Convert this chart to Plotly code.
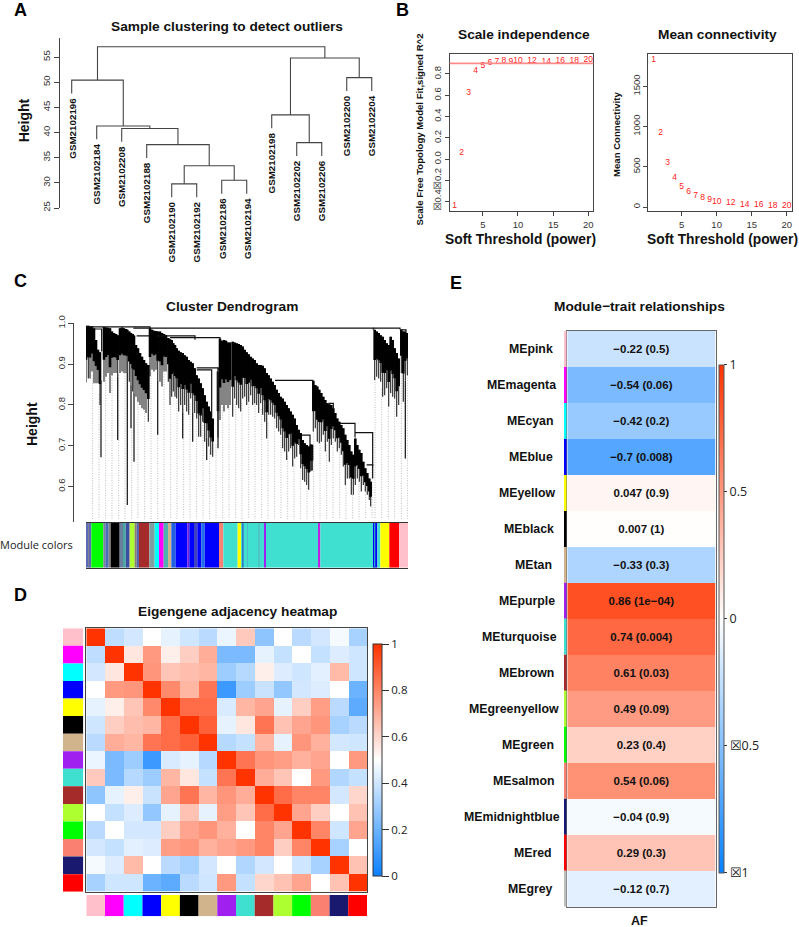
import numpy as np
import plotly.graph_objects as go

W, H = 799, 927

# A - amostras
sample_names = ["GSM2102196", "GSM2102184", "GSM2102208", "GSM2102188", "GSM2102190", "GSM2102192", "GSM2102186",
                "GSM2102194", "GSM2102198", "GSM2102202", "GSM2102206", "GSM2102200", "GSM2102204"]
# negativo = folha, positivo = no anterior (como hclust)
merge_left = [-5, -7, 1, -4, -3, -2, -1, -10, -9, -12, 9, 7]
merge_right = [-6, -8, 2, 3, 4, 5, 6, -11, 8, -13, 10, 11]
merge_height = [29.8, 30.5, 33.4, 37.6, 40.8, 41.3, 50.4, 38.0, 43.5, 50.9, 54.8, 57.05]
leaf_hang = 2.65

# B - soft threshold
powers = [1, 2, 3, 4, 5, 6, 7, 8, 9, 10, 12, 14, 16, 18, 20]
scale_fit = [-0.44, 0.063, 0.62, 0.827, 0.877, 0.905, 0.918, 0.92, 0.915, 0.92, 0.925, 0.918, 0.92, 0.92, 0.93]
mean_conn = [1823, 920, 551, 360, 253, 186, 141, 108, 87, 70, 46, 33, 25, 17, 12]

# C - dendrograma (posicao na arvore, topo e base dos ramos)
tree_x = [0, 7, 12, 18, 24, 30, 36, 42, 54, 60, 66, 72, 78, 84, 90, 95, 102, 108, 114, 120, 124, 130, 135, 140, 144,
          150, 156, 162, 168, 174, 180, 187, 192, 198, 204, 210, 215, 222, 228, 234, 240, 247, 252, 257, 262, 267,
          272, 278, 284, 290, 296, 302, 308, 314, 320, 326, 332, 338, 344, 350, 356, 362, 368, 374, 380, 396, 402,
          408, 414, 420, 426, 432, 440, 446, 452, 458, 464, 470, 476, 482, 488, 494, 500, 506, 512, 518, 524, 530,
          536, 542, 548, 554, 560, 566, 572, 578, 584, 590, 596, 602, 608, 614, 620, 626, 632, 638, 644, 650, 656,
          662, 668, 674, 678, 682, 688, 694, 700, 706, 712, 718, 724, 730, 736, 742, 748, 754, 760, 766, 772, 778,
          784, 790, 796, 802, 808, 814, 820, 826, 832, 838, 844, 850, 854, 866, 872, 878, 884, 890, 896, 902, 908,
          914, 920, 926, 932, 938, 946, 952, 958, 964]
tree_top = [.994, .994, .993, .992, .988, .959, .935, .929, .991, .990, .989, .988, .980, .976, .974, .971, .988, .990,
            .988, .986, .984, .980, .976, .974, .970, .947, .939, .927, .918, .910, .902, .898, .988, .984, .982, .981,
            .980, .980, .976, .974, .971, .964, .961, .959, .951, .947, .939, .933, .929, .927, .922, .918, .910, .906,
            .902, .890, .873, .865, .853, .841, .824, .808, .796, .784, .767, .882, .962, .957, .959, .957, .953, .953,
            .955, .953, .951, .949, .947, .943, .935, .929, .924, .918, .914, .910, .902, .898, .898, .896, .890, .878,
            .873, .865, .857, .849, .837, .829, .820, .816, .808, .800, .792, .784, .776, .767, .751, .739, .731, .714,
            .706, .702, .698, .702, .702, .859, .849, .845, .837, .829, .820, .812, .804, .802, .800, .792, .780, .767,
            .759, .751, .743, .727, .714, .702, .686, .678, .718, .702, .690, .682, .661, .645, .633, .620, .612, .984,
            .980, .976, .971, .967, .959, .951, .947, .967, .959, .939, .927, .914, .984, .980, .980, .976]
tree_bottom = [.855, .865, .865, .882, .853, .853, .853, .800, .857, .869, .878, .829, .873, .878, .878, .870, .878, .882,
               .878, .878, .878, .857, .850, .833, .830, .820, .808, .800, .792, .788, .780, .759, .870, .886, .882, .886,
               .860, .857, .845, .882, .882, .857, .800, .820, .833, .820, .816, .784, .800, .780, .800, .784, .776, .816,
               .780, .780, .767, .722, .722, .759, .710, .720, .698, .678, .673, .720, .763, .800, .784, .800, .792, .800,
               .771, .816, .800, .792, .784, .816, .820, .800, .808, .824, .800, .804, .800, .780, .804, .776, .759, .718,
               .776, .776, .771, .767, .743, .735, .727, .694, .686, .665, .686, .694, .649, .669, .673, .702, .645, .616,
               .612, .604, .592, .637, .639, .735, .743, .710, .706, .710, .727, .686, .710, .661, .702, .718, .710, .686,
               .694, .678, .649, .604, .620, .620, .580, .580, .604, .620, .612, .588, .604, .588, .580, .567, .551, .861,
               .869, .865, .857, .820, .824, .841, .796, .829, .820, .816, .771, .800, .878, .808, .860, .873]
spike_x = [45, 95, 124, 135, 144, 215, 290, 320, 362, 396, 958]
spike_top = [.860, .870, .878, .850, .830, .860, .780, .780, .720, .890, .860]
spike_bottom = [.672, .714, .555, .743, .661, .727, .718, .710, .665, .694, .669]
bracket_x0 = [25, 0, 152, 142, 862, 942, 252, 212, 332, 332, 567, 762, 807, 647, 672, 842, 727]
bracket_x1 = [47, 192, 192, 862, 942, 960, 402, 327, 397, 377, 680, 807, 860, 672, 678, 860, 742]
bracket_h = [.986, .991, .969, .988, .988, .984, .965, .969, .891, .886, .860, .755, .732, .726, .702, .653, .804]
bracket_drop = [.931, .988, .969, .984, .985, .980, .958, .960, .885, .770, .855, .720, .620, .700, .640, .650, .790]
guide_x = [20, 39, 59, 78, 98, 117, 137, 156, 176, 195, 215, 234, 254, 273, 293, 312, 332, 351, 371, 390, 410, 429,
           449, 468, 488, 507, 527, 546, 566, 585, 605, 624, 644, 663, 683, 702, 722, 741, 761, 780, 800, 819, 839,
           858, 867, 887, 907, 926, 946, 965]

module_colors = ["#5D6BB5", "#808090", "#5D6BB5", "#00FF00", "#7A7F9A", "#4B6CB7", "#808080", "#000000", "#6A7FA0",
                 "#48A8A0", "#3A4FA0", "#A0A0A0", "#ADFF2F", "#8A7A70", "#5566AA", "#A52A2A", "#80A0A0", "#00FFFF",
                 "#FF00FF", "#50B0B0", "#D2B48C", "#2060E0", "#0000FF", "#7020E0", "#0000FF", "#4040C0", "#0000FF",
                 "#1E70E8", "#0000FF", "#FA8072", "#40E0D0", "#FFFF00", "#40E0D0", "#3377CC", "#40E0D0", "#50B8C8",
                 "#40E0D0", "#50C0C8", "#40E0D0", "#A020F0", "#40E0D0", "#C020E0", "#40E0D0", "#0000FF", "#30A0C0",
                 "#0000FF", "#40E0D0", "#FFFF00", "#FF0000", "#FFC0CB"]
module_widths = [8, 3, 5, 36, 6, 10, 6, 27, 10, 8, 10, 3, 14, 6, 7, 31, 16, 13, 14, 13, 10, 13, 35, 6, 14, 10, 12, 10,
                 43, 13, 43, 12, 3, 3, 10, 3, 32, 3, 14, 5, 156, 7, 159, 4, 2, 6, 9, 27, 29, 27]

# D - adjacencia
eigen_colors = ["#FFC0CB", "#FF00FF", "#00FFFF", "#0000FF", "#FFFF00", "#000000", "#D2B48C", "#A020F0", "#40E0D0",
                "#A52A2A", "#ADFF2F", "#00FF00", "#FA8072", "#191970", "#FF0000"]
adjacency = [
    [1.00, .37, .41, .50, .45, .40, .36, .46, .63, .27, .50, .36, .41, .48, .32],
    [.37, 1.00, .56, .75, .54, .62, .70, .23, .23, .45, .38, .50, .38, .43, .40],
    [.41, .56, 1.00, .76, .64, .66, .68, .30, .35, .54, .43, .40, .44, .67, .40],
    [.50, .75, .76, 1.00, .79, .68, .84, .10, .30, .39, .28, .41, .43, .50, .20],
    [.45, .54, .64, .79, 1.00, .86, .86, .42, .68, .72, .45, .62, .74, .36, .17],
    [.40, .62, .66, .68, .86, 1.00, .89, .45, .56, .84, .65, .72, .76, .32, .36],
    [.36, .70, .68, .84, .86, .89, 1.00, .35, .38, .68, .45, .76, .69, .41, .40],
    [.46, .23, .30, .10, .42, .45, .35, 1.00, .84, .76, .74, .69, .72, .50, .75],
    [.63, .23, .35, .30, .68, .56, .38, .84, 1.00, .70, .64, .50, .75, .34, .38],
    [.27, .45, .54, .39, .72, .84, .68, .76, .70, 1.00, .86, .80, .80, .41, .60],
    [.50, .38, .43, .28, .45, .65, .45, .74, .64, .86, 1.00, .72, .62, .50, .65],
    [.36, .50, .41, .41, .62, .72, .76, .69, .50, .80, .72, 1.00, .80, .40, .72],
    [.41, .38, .44, .43, .74, .76, .69, .72, .75, .80, .62, .80, 1.00, .32, .50],
    [.48, .43, .67, .50, .36, .32, .41, .50, .34, .41, .50, .40, .32, 1.00, .65],
    [.32, .40, .40, .20, .17, .36, .40, .75, .38, .60, .65, .72, .50, .65, 1.00],
]

# E - modulos x AF
me_names = ["MEpink", "MEmagenta", "MEcyan", "MEblue", "MEyellow", "MEblack", "MEtan", "MEpurple", "MEturquoise",
            "MEbrown", "MEgreenyellow", "MEgreen", "MEsalmon", "MEmidnightblue", "MEred", "MEgrey"]
me_colors = eigen_colors[:12] + ["#FA8072", "#191970", "#FF0000", "#BEBEBE"]
me_corr = [-0.22, -0.54, -0.42, -0.7, 0.047, 0.007, -0.33, 0.86, 0.74, 0.61, 0.49, 0.23, 0.54, -0.04, 0.29, -0.12]
me_text = ["−0.22 (0.5)", "−0.54 (0.06)", "−0.42 (0.2)", "−0.7 (0.008)", "0.047 (0.9)", "0.007 (1)", "−0.33 (0.3)",
           "0.86 (1e−04)", "0.74 (0.004)", "0.61 (0.03)", "0.49 (0.09)", "0.23 (0.4)", "0.54 (0.06)", "−0.04 (0.9)",
           "0.29 (0.3)", "−0.12 (0.7)"]
me_label_right = [555, 558, 555, 555, 557, 556, 554, 557, 559, 556, 561, 556, 557, 562, 554, 555]

AXIS = "#444444"
SANS = "Liberation Sans"
BWR = [[0, "#0A80FF"], [0.5, "#FFFFFF"], [1, "#FF3300"]]

fig = go.Figure()


def xdom(a, b):
    return [a / W, b / W]


def ydom(top, bottom):
    return [1 - bottom / H, 1 - top / H]


def label(x, y, text, size=13.7, bold=True, angle=0, color="#111111", family=SANS, anchor="center"):
    fig.add_annotation(xref="paper", yref="paper", x=x / W, y=1 - y / H, text=f"<b>{text}</b>" if bold else text,
                       showarrow=False, textangle=angle, xanchor=anchor, yanchor="middle",
                       font=dict(size=size, color=color, family=family))


def segments(xs0, ys0, xs1, ys1):
    xs, ys = [], []
    for a, b, c, d in zip(xs0, ys0, xs1, ys1):
        xs += [a, c, None]
        ys += [b, d, None]
    return xs, ys


hidden = dict(visible=False, fixedrange=True)
tick_font = dict(size=9.5, color="#333333", family=SANS)

# ---- A
n_leaf = len(sample_names)
node_x, node_h = {}, {}
dx, dy = [], []
for i, (a, b, h) in enumerate(zip(merge_left, merge_right, merge_height), start=1):
    pts = []
    for k in (a, b):
        if k < 0:
            pts.append((-k, h - leaf_hang))
        else:
            pts.append((node_x[k], node_h[k]))
    dx += [pts[0][0], pts[0][0], pts[1][0], pts[1][0], None]
    dy += [pts[0][1], h, h, pts[1][1], None]
    node_x[i], node_h[i] = (pts[0][0] + pts[1][0]) / 2, h
    for k, (px, py) in zip((a, b), pts):
        if k < 0:
            fig.add_annotation(xref="x", yref="y", x=px, y=py, text=f"<b>{sample_names[-k - 1]}</b>", showarrow=False,
                               textangle=-90, yanchor="top", xanchor="center", yshift=-3, borderpad=0,
                               font=dict(size=9.8, color="#111111", family=SANS))
fig.add_trace(go.Scatter(x=dx, y=dy, mode="lines", line=dict(color="#444444", width=1.1), hoverinfo="skip",
                         xaxis="x", yaxis="y"))
fig.update_layout(
    xaxis=dict(domain=xdom(59.5, 400), range=[0.512, 14.13], anchor="y", **hidden),
    yaxis=dict(domain=ydom(38, 208), range=[25, 58.78], anchor="x", showline=True, linecolor=AXIS, ticks="outside",
               ticklen=5, tickcolor=AXIS, tickvals=[25, 30, 35, 40, 45, 50, 55], tickangle=-90, tickfont=tick_font,
               showgrid=False, zeroline=False, fixedrange=True),
)

# ---- B
fig.add_trace(go.Scatter(x=powers, y=scale_fit, mode="text", text=powers, textfont=dict(size=8.5, color="#FF2020"),
                         hoverinfo="skip", xaxis="x2", yaxis="y2", cliponaxis=False))
fig.add_shape(type="line", xref="x2 domain", yref="y2", x0=0, x1=1, y0=0.9, y1=0.9,
              line=dict(color="#FF8A8A", width=1.6))
fig.add_trace(go.Scatter(x=powers, y=mean_conn, mode="text", text=powers, textfont=dict(size=8.5, color="#FF2020"),
                         hoverinfo="skip", xaxis="x3", yaxis="y3", cliponaxis=False))
box = dict(showline=True, mirror=True, linecolor=AXIS, ticks="outside", ticklen=4, tickcolor=AXIS, tickfont=tick_font,
           showgrid=False, zeroline=False, fixedrange=True)
fig.update_layout(
    xaxis2=dict(domain=xdom(449.7, 593.3), range=[0.3, 20.7], anchor="y2", tickvals=[5, 10, 15, 20], **box),
    yaxis2=dict(domain=ydom(54.3, 211.3), range=[-0.49, 0.985], anchor="x2", tickangle=-90,
                tickvals=[-0.4, -0.2, 0, 0.2, 0.4, 0.6, 0.8], ticktext=["☒0.4", "☒0.2", "0.0", "0.2", "0.4", "0.6", "0.8"],
                **box),
    xaxis3=dict(domain=xdom(648.3, 792), range=[0.24, 20.76], anchor="y3", tickvals=[5, 10, 15, 20], **box),
    yaxis3=dict(domain=ydom(54.3, 211.3), range=[-53, 1898], anchor="x3", tickangle=-90,
                tickvals=[0, 500, 1000, 1500], **box),
)

# ---- C
guide_bottom = np.interp(guide_x, tree_x, tree_bottom)
gx, gy = segments(guide_x, guide_bottom, guide_x, [0.52] * len(guide_x))
fig.add_trace(go.Scatter(x=gx, y=gy, mode="lines", line=dict(color="#BBBBBB", width=1, dash="1px,1.5px"),
                         hoverinfo="skip", xaxis="x4", yaxis="y4"))
# parte de baixo dos ramos mais fina e cinza, parte de cima preta
tx, ty = segments(tree_x, tree_top, tree_x, tree_bottom)
fig.add_trace(go.Scatter(x=tx, y=ty, mode="lines", line=dict(color="#333333", width=1.2), hoverinfo="skip",
                         xaxis="x4", yaxis="y4"))
tree_core = [t - 0.6 * (t - b) for t, b in zip(tree_top, tree_bottom)]
cx, cy = segments(tree_x, tree_top, tree_x, tree_core)
fig.add_trace(go.Scatter(x=cx, y=cy, mode="lines", line=dict(color="#000000", width=2.6), hoverinfo="skip",
                         xaxis="x4", yaxis="y4"))
sx, sy = segments(spike_x, spike_top, spike_x, spike_bottom)
fig.add_trace(go.Scatter(x=sx, y=sy, mode="lines", line=dict(color="#222222", width=1.3), hoverinfo="skip",
                         xaxis="x4", yaxis="y4"))
bx, by = [], []
for a, b, h, d in zip(bracket_x0, bracket_x1, bracket_h, bracket_drop):
    bx += [a, b, b, None]
    by += [h, h, d, None]
fig.add_trace(go.Scatter(x=bx, y=by, mode="lines", line=dict(color="#111111", width=1.2), hoverinfo="skip",
                         xaxis="x4", yaxis="y4"))
fig.update_layout(
    xaxis4=dict(domain=xdom(86, 408), range=[0, 966], anchor="y4", **hidden),
    yaxis4=dict(domain=ydom(323.3, 521.7), range=[0.514, 1.0], anchor="free", position=73.3 / W, showline=True,
                linecolor=AXIS, ticks="outside", ticklen=5, tickcolor=AXIS, tickvals=[0.6, 0.7, 0.8, 0.9, 1.0],
                tickformat=".1f", tickangle=-90, tickfont=tick_font, showgrid=False, zeroline=False, fixedrange=True),
)
fig.add_trace(go.Bar(x=module_widths, base=np.cumsum([0] + module_widths[:-1]).tolist(), y=[0.5] * len(module_widths),
                     width=1, orientation="h", marker=dict(color=module_colors, line=dict(width=0)), hoverinfo="skip",
                     xaxis="x5", yaxis="y5"))
fig.update_layout(
    xaxis5=dict(domain=xdom(86, 408), range=[0, 966], anchor="y5", showline=True, mirror=True, linecolor="#333333",
                showticklabels=False, ticks="", showgrid=False, zeroline=False, fixedrange=True),
    yaxis5=dict(domain=ydom(523, 567.7), range=[0, 1], anchor="x5", visible=False, fixedrange=True),
)

# ---- D
fig.add_trace(go.Heatmap(z=adjacency, zmin=0, zmax=1, colorscale=BWR, hoverinfo="skip", xaxis="x6", yaxis="y6",
                         colorbar=dict(x=373.3 / W, xanchor="left", y=1 - 876 / H, yanchor="bottom", len=232.3,
                                       lenmode="pixels", thickness=9.4, thicknessmode="pixels", xpad=0, ypad=0,
                                       outlinecolor="#333333", outlinewidth=1, ticks="outside", ticklen=7,
                                       tickcolor="#333333", tickvals=[0, 0.2, 0.4, 0.6, 0.8, 1],
                                       ticktext=["0", "0.2", "0.4", "0.6", "0.8", "1"],
                                       tickfont=dict(size=11.5, color="#222222", family="Open Sans"))))
fig.update_layout(
    xaxis6=dict(domain=xdom(86.3, 367), range=[-0.5, 14.5], anchor="y6", showline=True, mirror=True, linecolor=AXIS,
                linewidth=1.2, showticklabels=False, ticks="", showgrid=False, zeroline=False, fixedrange=True),
    yaxis6=dict(domain=ydom(628.3, 891.7), range=[14.5, -0.5], anchor="x6", showline=True, mirror=True, linecolor=AXIS,
                linewidth=1.2, showticklabels=False, ticks="", showgrid=False, zeroline=False, fixedrange=True),
)
idx = list(range(len(eigen_colors)))
fig.add_trace(go.Bar(y=idx, x=[1] * len(idx), orientation="h", width=1, marker=dict(color=eigen_colors, line=dict(width=0)),
                     hoverinfo="skip", xaxis="x7", yaxis="y7"))
fig.add_trace(go.Bar(x=idx, y=[1] * len(idx), width=1, marker=dict(color=eigen_colors, line=dict(width=0)),
                     hoverinfo="skip", xaxis="x8", yaxis="y8"))
fig.update_layout(
    xaxis7=dict(domain=xdom(63, 83.3), range=[0, 1], anchor="y7", **hidden),
    yaxis7=dict(domain=ydom(628.3, 891.7), range=[14.5, -0.5], anchor="x7", **hidden),
    xaxis8=dict(domain=xdom(86.3, 367), range=[-0.5, 14.5], anchor="y8", **hidden),
    yaxis8=dict(domain=ydom(895, 916.3), range=[0, 1], anchor="x8", **hidden),
)

# ---- E
rows = list(range(len(me_names)))
fig.add_trace(go.Heatmap(z=[[v] for v in me_corr], y=rows, x=[0], text=[[t] for t in me_text],
                         texttemplate="<b>%{text}</b>", textfont=dict(size=11.5, color="#111111", family=SANS),
                         zmin=-1, zmax=1, colorscale=BWR, hoverinfo="skip", xaxis="x9", yaxis="y9",
                         colorbar=dict(x=719.3 / W, xanchor="left", y=1 - 872.7 / H, yanchor="bottom", len=507.7,
                                       lenmode="pixels", thickness=5, thicknessmode="pixels", xpad=0, ypad=0,
                                       outlinecolor="#555555", outlinewidth=1, ticks="outside", ticklen=3,
                                       tickcolor="#333333", tickvals=[-1, -0.5, 0, 0.5, 1],
                                       ticktext=["☒1", "☒0.5", "0", "0.5", "1"],
                                       tickfont=dict(size=12.5, color="#222222", family="Open Sans"))))
fig.add_trace(go.Bar(y=rows, x=[1] * len(rows), orientation="h", width=1, marker=dict(color=me_colors, line=dict(width=0)),
                     hoverinfo="skip", xaxis="x10", yaxis="y10"))
fig.update_layout(
    xaxis9=dict(domain=xdom(567.3, 715.7), range=[-0.5, 0.5], anchor="y9", showline=True, mirror=True, linecolor="#666666",
                showticklabels=False, ticks="", showgrid=False, zeroline=False, fixedrange=True),
    yaxis9=dict(domain=ydom(331, 906.7), range=[15.5, -0.5], anchor="x9", showline=True, mirror=True, linecolor="#666666",
                showticklabels=False, ticks="", showgrid=False, zeroline=False, fixedrange=True),
    xaxis10=dict(domain=xdom(564, 566.7), range=[0, 1], anchor="y10", **hidden),
    yaxis10=dict(domain=ydom(331, 906.7), range=[15.5, -0.5], anchor="x10", **hidden),
)
for r, name, right in zip(rows, me_names, me_label_right):
    fig.add_annotation(xref="paper", yref="y9", x=right / W, y=r, text=f"<b>{name}</b>", showarrow=False, xanchor="right",
                       font=dict(size=12.3, color="#111111", family=SANS))

# ---- textos
for letter, x, y in [("A", 20, 10), ("B", 402, 10), ("C", 20, 281), ("D", 20, 595), ("E", 456, 283)]:
    label(x, y, letter, size=18, color="#000000")
label(227, 27, "Sample clustering to detect outliers")
label(523.7, 35, "Scale independence")
label(717, 35, "Mean connectivity")
label(232, 306, "Cluster Dendrogram")
label(237, 611, "Eigengene adjacency heatmap")
label(639, 306, "Module−trait relationships")
label(24.3, 120, "Height", size=14, angle=-90)
label(32, 424, "Height", size=14, angle=-90)
label(419, 129.5, "Scale Free Topology Model Fit,signed R^2", size=9.6, angle=-90)
label(617, 135, "Mean Connectivity", size=9.6, angle=-90)
label(520.5, 239, "Soft Threshold (power)", size=13.8)
label(722, 239, "Soft Threshold (power)", size=13.8)
label(36.5, 544, "Module colors", size=11, bold=False, family="Open Sans", color="#222222")
label(639.5, 921, "AF", size=12.5)

fig.update_layout(width=W, height=H, showlegend=False, margin=dict(l=0, r=0, t=0, b=0, autoexpand=False),
                  paper_bgcolor="white", plot_bgcolor="white", barmode="overlay", font=dict(family=SANS))
# a pagina tem margem padrao de 8px
fig.write_html("out.html", config={"displayModeBar": False},
               post_script="document.body.style.margin='0';document.body.style.overflow='hidden';")
